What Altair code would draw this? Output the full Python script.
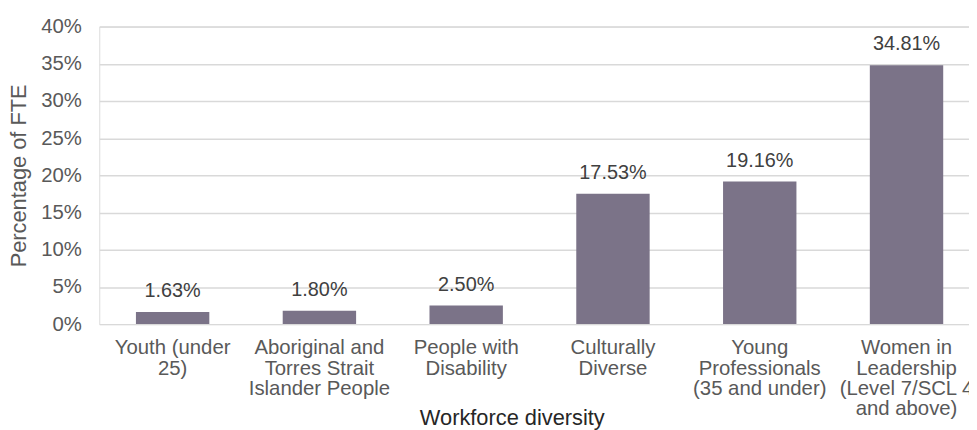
import altair as alt
import pandas as pd

categories = [
    "Youth (under|25)",
    "Aboriginal and|Torres Strait|Islander People",
    "People with|Disability",
    "Culturally|Diverse",
    "Young|Professionals|(35 and under)",
    "Women in|Leadership|(Level 7/SCL 4|and above)",
]
values = [0.0163, 0.0180, 0.0250, 0.1753, 0.1916, 0.3481]
y_ticks = [0, 0.05, 0.10, 0.15, 0.20, 0.25, 0.30, 0.35, 0.40]

df = pd.DataFrame({"cat": categories, "val": values})

FONT = "Liberation Sans"
BAR = "#7b7388"

x_enc = alt.X(
    "cat:N",
    sort=None,
    scale=alt.Scale(range=[0, 888], paddingInner=0.5, paddingOuter=0.25),
    axis=alt.Axis(
        title="Workforce diversity",
        labelExpr="split(datum.label, '|')",
        labelAngle=0,
        labelFont=FONT,
        labelFontSize=20.5,
        labelColor="#595959",
        labelLineHeight=20.5,
        labelPadding=14,
        labelLimit=400,
        ticks=False,
        domain=False,
        titleFont=FONT,
        titleFontSize=22,
        titleFontWeight="normal",
        titleColor="#262626",
        titleX=416,
        titleY=84,
        titleAlign="center",
        titleBaseline="top",
    ),
)

y_enc = alt.Y(
    "val:Q",
    scale=alt.Scale(domain=[0, 0.4], nice=False),
    axis=alt.Axis(
        title="Percentage of FTE",
        values=y_ticks,
        format=".0%",
        labelOverlap=False,
        labelFont=FONT,
        labelFontSize=20.5,
        labelColor="#595959",
        labelPadding=18,
        ticks=False,
        domain=False,
        grid=True,
        gridColor="#d9d9d9",
        gridWidth=1.5,
        titleFont=FONT,
        titleFontSize=22,
        titleFontWeight="normal",
        titleColor="#595959",
        titleX=-81,
        titleY=150,
        titleAngle=270,
        titleAlign="center",
        titleBaseline="middle",
    ),
)

base = alt.Chart(df).encode(x=x_enc, y=y_enc)

bars = base.mark_bar(color=BAR)

labels = base.mark_text(
    font=FONT, fontSize=20, color="#404040", baseline="alphabetic", dy=-15
).encode(text=alt.Text("val:Q", format=".2%"))

chart = (
    alt.layer(bars, labels)
    .properties(
        width=877,
        height=300,
        autosize=alt.AutoSizeParams(type="none"),
        padding={"left": 92, "top": 17, "right": 0, "bottom": 105},
    )
    .configure_view(stroke=None)
    .configure(background="white")
)

chart.save("out.html", embed_options={"renderer": "svg", "actions": False})
